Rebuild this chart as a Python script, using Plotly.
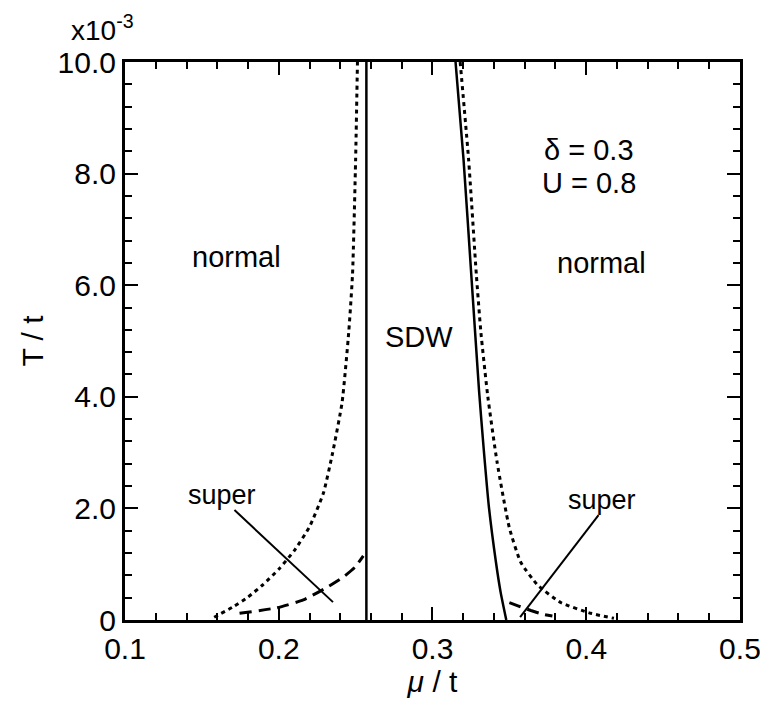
import plotly.graph_objects as go

# ---- data (T in units of 1e-3 t, mu in units of t) ----
sdw_left_mu = [0.257, 0.257]
sdw_left_T = [0.0, 10.0]

sdw_right_mu = [0.315, 0.3202, 0.3252, 0.3303, 0.3332, 0.3366, 0.3413, 0.3443, 0.348]
sdw_right_T = [10.0, 8.25, 6.2, 4.1, 3.1, 2.05, 1.03, 0.5, 0.0]

normal_left_mu = [0.158, 0.170, 0.180, 0.190, 0.200, 0.210, 0.220, 0.229, 0.235, 0.2412, 0.2455, 0.248, 0.2500, 0.2512]
normal_left_T = [0.05, 0.23, 0.41, 0.64, 0.91, 1.24, 1.67, 2.27, 2.99, 3.90, 5.15, 6.2, 8.25, 10.0]

normal_right_mu = [0.318, 0.3235, 0.3285, 0.3315, 0.3360, 0.3420, 0.3500, 0.3575, 0.3686, 0.3837, 0.403, 0.418]
normal_right_T = [10.0, 8.25, 6.2, 5.15, 4.0, 2.83, 1.65, 1.03, 0.62, 0.31, 0.12, 0.03]

super_left_mu = [0.1745, 0.199, 0.216, 0.231, 0.242, 0.2497, 0.255]
super_left_T = [0.12, 0.22, 0.36, 0.58, 0.77, 0.95, 1.15]

super_right_mu = [0.350, 0.356, 0.364, 0.372, 0.378]
super_right_T = [0.31, 0.25, 0.17, 0.10, 0.07]

# pointer lines for the "super" labels
ptr_left_mu = [0.1712, 0.2353]
ptr_left_T = [1.97, 0.32]
ptr_right_mu = [0.408, 0.357]
ptr_right_T = [1.88, 0.05]

FONT = "Arial, Liberation Sans, Helvetica, sans-serif"
BLACK = "#000000"

fig = go.Figure()

def add_line(x, y, dash, width):
    fig.add_trace(go.Scatter(x=x, y=y, mode="lines", showlegend=False,
                             line=dict(color=BLACK, width=width, dash=dash, shape="spline", smoothing=0.5),
                             hoverinfo="skip"))

add_line(sdw_left_mu, sdw_left_T, "solid", 2.5)
add_line(sdw_right_mu, sdw_right_T, "solid", 2.5)
add_line(normal_left_mu, normal_left_T, "4px,4px", 3)
add_line(normal_right_mu, normal_right_T, "4px,4px", 3)
add_line(super_left_mu, super_left_T, "12px,7px", 3)
add_line(super_right_mu, super_right_T, "12px,7px", 3)

fig.add_trace(go.Scatter(x=ptr_left_mu, y=ptr_left_T, mode="lines", showlegend=False,
                         line=dict(color=BLACK, width=2), hoverinfo="skip"))
fig.add_trace(go.Scatter(x=ptr_right_mu, y=ptr_right_T, mode="lines", showlegend=False,
                         line=dict(color=BLACK, width=2), hoverinfo="skip"))

labels = [
    ("normal", 0.1725, 6.5, 29),
    ("normal", 0.410, 6.4, 29),
    ("SDW", 0.291, 5.07, 29),
    ("super", 0.163, 2.24, 27),
    ("super", 0.410, 2.15, 27),
    ("δ = 0.3", 0.402, 8.42, 29),
    ("U = 0.8", 0.402, 7.83, 29),
]
for txt, xx, yy, fs in labels:
    fig.add_annotation(x=xx, y=yy, text=txt, showarrow=False,
                       font=dict(family=FONT, size=fs, color=BLACK))

fig.add_annotation(xref="paper", yref="paper", x=0.018, y=1.0, yshift=14,
                   xanchor="right", yanchor="bottom", showarrow=False,
                   text="x10<sup>-3</sup>", font=dict(family=FONT, size=28, color=BLACK))

axis_common = dict(
    showline=True, linecolor=BLACK, linewidth=3, mirror="allticks",
    ticks="inside", tickcolor=BLACK, tickwidth=2, ticklen=13,
    showgrid=False, zeroline=False, ticklabeloverflow="allow", automargin=False,
    tickfont=dict(family=FONT, size=30, color=BLACK),
)

fig.update_xaxes(range=[0.1, 0.50001], tickmode="linear", tick0=0.1, dtick=0.1, tickformat=".1f",
                 minor=dict(dtick=0.02, ticks="inside", ticklen=7, tickwidth=2, tickcolor=BLACK, showgrid=False),
                 title=dict(text="<i>μ</i> / t", font=dict(family=FONT, size=30, color=BLACK), standoff=4),
                 **axis_common)
fig.update_yaxes(range=[0, 10.00001], tickmode="linear", tick0=0, dtick=2, tickformat=".1f",
                 labelalias={"0.0": "0"},
                 minor=dict(dtick=0.4, ticks="inside", ticklen=7, tickwidth=2, tickcolor=BLACK, showgrid=False),
                 title=dict(text="T / t", font=dict(family=FONT, size=30, color=BLACK), standoff=6),
                 **axis_common)

fig.update_layout(width=760, height=716, margin=dict(l=125, r=20, t=62, b=96),
                  paper_bgcolor="white", plot_bgcolor="white")

fig.write_html("out.html")
